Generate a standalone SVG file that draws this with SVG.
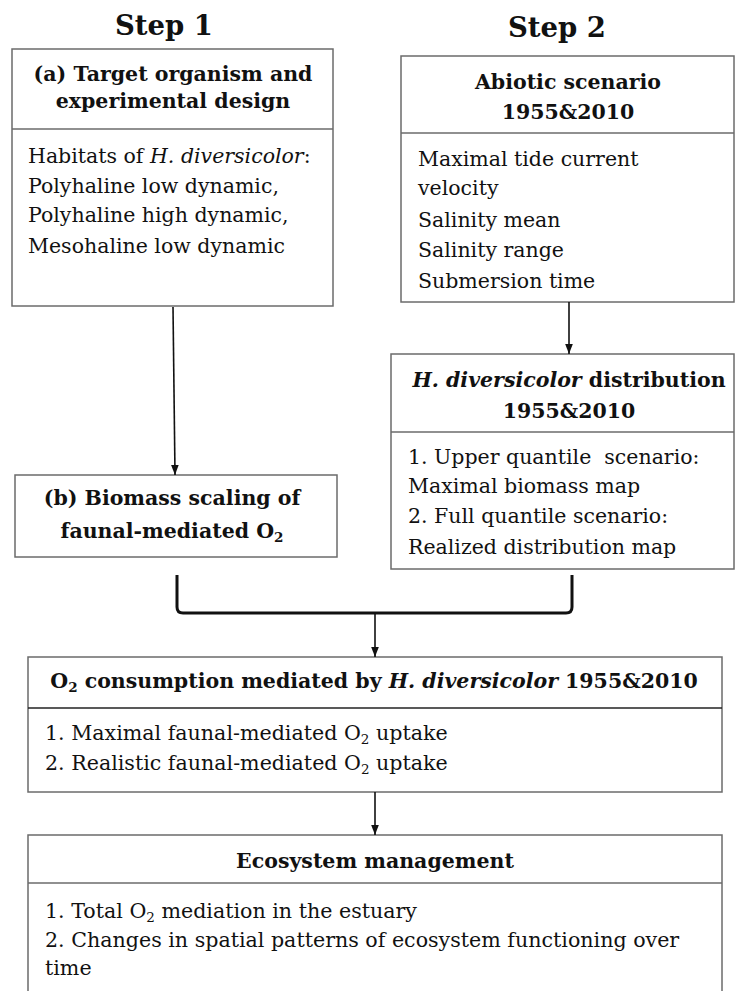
<svg xmlns="http://www.w3.org/2000/svg" width="735" height="991" viewBox="0 0 735 991">
<style>
.box{fill:#fff;stroke:#6b6b6b;stroke-width:1.5}
.div{stroke:#6b6b6b;stroke-width:1.5}
.divk{stroke:#222;stroke-width:1.5}
text{font-family:"DejaVu Serif","Liberation Serif",serif;fill:#111}
.step{font-size:27.5px;font-weight:bold;text-anchor:middle}
.hd{font-size:20.5px;font-weight:bold;text-anchor:middle}
.bd{font-size:20.5px}
.bd2{font-size:20.6px}
.con{stroke:#111;stroke-width:1.6;fill:none}
.brk{stroke:#111;stroke-width:3;fill:none;stroke-linejoin:round}
</style>
<defs>
<marker id="ah" markerUnits="userSpaceOnUse" markerWidth="10" markerHeight="10" viewBox="0 0 10 10" refX="10" refY="5" orient="auto">
<path d="M0,1.2 L10,5 L0,8.8 Z" fill="#111"/>
</marker>
</defs>

<text class="step" x="164" y="35">Step 1</text>
<text class="step" x="557" y="37">Step 2</text>

<g id="nodeA">
<rect class="box" x="12" y="49" width="321" height="257"/>
<line class="div" x1="12" y1="129" x2="333" y2="129"/>
<text class="hd" x="173" y="81">(a) Target organism and</text>
<text class="hd" x="173" y="108">experimental design</text>
<text class="bd" x="28" y="163">Habitats of <tspan font-style="italic">H. diversicolor</tspan>:</text>
<text class="bd" x="28" y="193">Polyhaline low dynamic,</text>
<text class="bd" x="28" y="222">Polyhaline high dynamic,</text>
<text class="bd" x="28" y="253">Mesohaline low dynamic</text>
</g>

<g id="nodeAbiotic">
<rect class="box" x="401" y="56" width="333" height="246"/>
<line class="div" x1="401" y1="133" x2="734" y2="133"/>
<text class="hd" x="568" y="89">Abiotic scenario</text>
<text class="hd" x="568" y="119">1955&amp;2010</text>
<text class="bd" x="418" y="166">Maximal tide current</text>
<text class="bd" x="418" y="195">velocity</text>
<text class="bd" x="418" y="227">Salinity mean</text>
<text class="bd" x="418" y="257">Salinity range</text>
<text class="bd" x="418" y="288">Submersion time</text>
</g>

<g id="nodeB">
<rect class="box" x="15" y="475" width="322" height="82"/>
<text class="hd" x="172" y="505">(b) Biomass scaling of</text>
<text class="hd" x="172" y="538">faunal-mediated O<tspan font-size="13.5" dy="4">2</tspan></text>
</g>

<g id="nodeDist">
<rect class="box" x="391" y="354" width="343" height="215"/>
<line class="div" x1="391" y1="432" x2="734" y2="432"/>
<text class="hd" x="569" y="387"><tspan font-style="italic">H. diversicolor</tspan>  distribution</text>
<text class="hd" x="569" y="418">1955&amp;2010</text>
<text class="bd" x="408" y="464" xml:space="preserve">1. Upper quantile  scenario:</text>
<text class="bd" x="408" y="493">Maximal biomass map</text>
<text class="bd" x="408" y="523">2. Full quantile scenario:</text>
<text class="bd" x="408" y="554">Realized distribution map</text>
</g>

<g id="nodeO2">
<rect class="box" x="28" y="657" width="694" height="135"/>
<line class="divk" x1="28" y1="708" x2="722" y2="708"/>
<text class="hd" x="374" y="688">O<tspan font-size="13.5" dy="4">2</tspan><tspan dy="-4"> consumption mediated by </tspan><tspan font-style="italic">H. diversicolor</tspan> 1955&amp;2010</text>
<text class="bd2" x="45" y="740">1. Maximal faunal-mediated O<tspan font-size="13.5" dy="4">2</tspan><tspan dy="-4"> uptake</tspan></text>
<text class="bd2" x="45" y="770">2. Realistic faunal-mediated O<tspan font-size="13.5" dy="4">2</tspan><tspan dy="-4"> uptake</tspan></text>
</g>

<g id="nodeEco">
<rect class="box" x="28" y="835" width="694" height="170"/>
<line class="div" x1="28" y1="883" x2="722" y2="883"/>
<text class="hd" x="375" y="868">Ecosystem management</text>
<text class="bd2" x="45" y="918">1. Total O<tspan font-size="13.5" dy="4">2</tspan><tspan dy="-4"> mediation in the estuary</tspan></text>
<text class="bd2" x="45" y="947">2. Changes in spatial patterns of ecosystem functioning over</text>
<text class="bd2" x="45" y="975">time</text>
</g>

<g id="connectors">
<line class="con" x1="173" y1="307" x2="175" y2="475" marker-end="url(#ah)"/>
<line class="con" x1="569" y1="302" x2="569" y2="354" marker-end="url(#ah)"/>
<path class="brk" d="M177,575 V607 Q177,613 183,613 H566 Q572,613 572,607 V575"/>
<line class="con" x1="375" y1="613" x2="375" y2="657" marker-end="url(#ah)"/>
<line class="con" x1="375" y1="792" x2="375" y2="835" marker-end="url(#ah)"/>
</g>
</svg>
